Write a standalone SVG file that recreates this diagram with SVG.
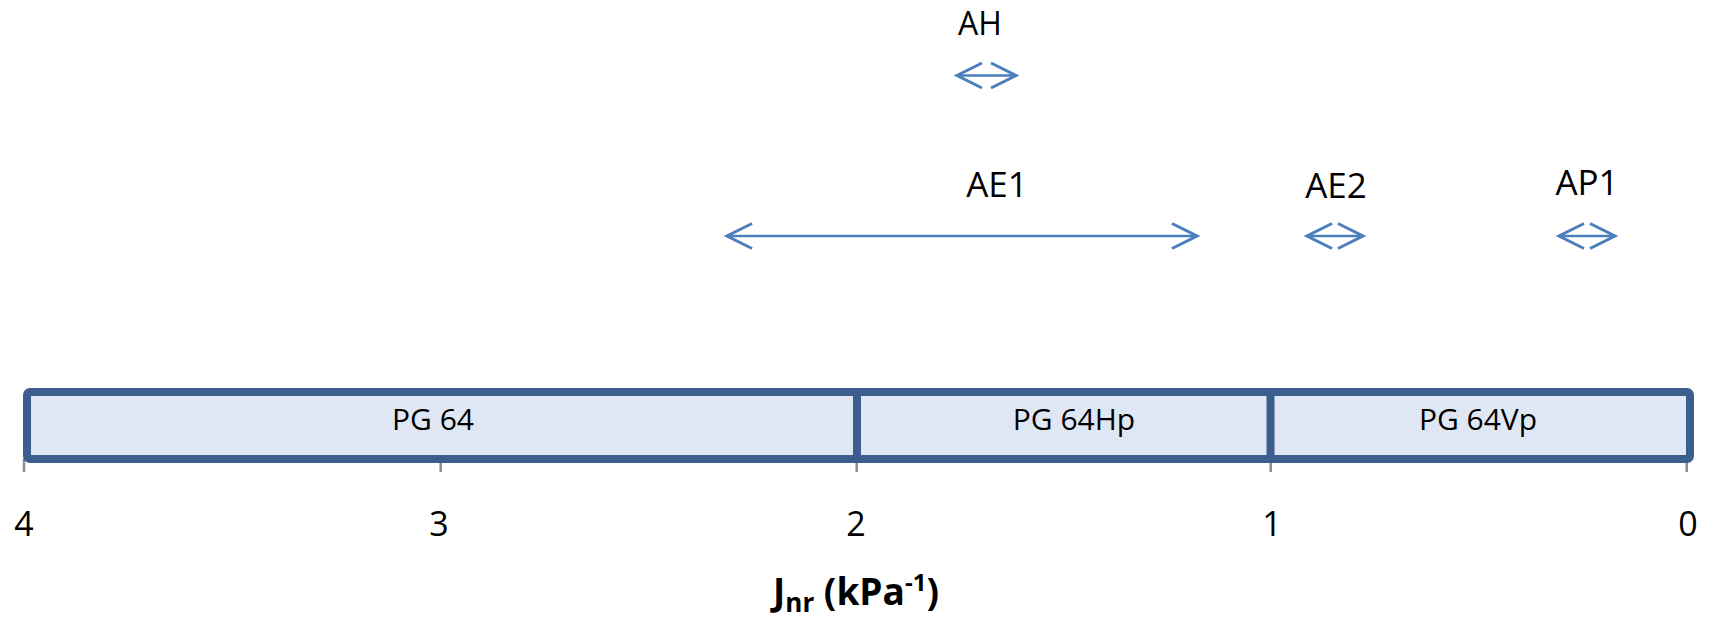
<svg xmlns="http://www.w3.org/2000/svg" width="1715" height="620" viewBox="0 0 1715 620">
<style>
  .lbl { font-family: "Open Sans", "Liberation Sans", sans-serif; fill: #000; text-anchor: middle; }
  .rng { font-size: 35px; }
  .bar { font-size: 30px; }
  .tick { font-size: 34px; }
  .title { font-size: 37px; font-weight: bold; }
  .arrow { stroke: #4a7ebb; stroke-width: 2.5; fill: none; marker-start: url(#head); marker-end: url(#head); }
  .seg { fill: #dfe7f4; stroke: #3b5e8c; stroke-width: 8; }
  .tk { stroke: #8c8c8c; stroke-width: 2.5; }
</style>
<defs>
  <marker id="head" viewBox="-30 -16 34 32" refX="0" refY="0" markerWidth="34" markerHeight="32" markerUnits="userSpaceOnUse" orient="auto-start-reverse" overflow="visible">
    <path d="M-25,-12.5 L0,0 L-25,12.5" fill="none" stroke="#4a7ebb" stroke-width="3"/>
  </marker>
</defs>
<rect width="1715" height="620" fill="#fff"/>

<g id="axis">
  <line class="tk" x1="24" y1="459" x2="24" y2="472"/>
  <line class="tk" x1="440.7" y1="459" x2="440.7" y2="472"/>
  <line class="tk" x1="856.7" y1="459" x2="856.7" y2="472"/>
  <line class="tk" x1="1270.7" y1="459" x2="1270.7" y2="472"/>
  <line class="tk" x1="1686.7" y1="459" x2="1686.7" y2="472"/>
  <text class="lbl tick" x="24" y="536">4</text>
  <text class="lbl tick" x="439" y="536">3</text>
  <text class="lbl tick" x="856" y="536">2</text>
  <text class="lbl tick" x="1272" y="536">1</text>
  <text class="lbl tick" x="1688" y="536">0</text>
  <text class="lbl title" x="856" y="605">J<tspan font-size="26" dy="7">nr</tspan><tspan dy="-7"> (kPa</tspan><tspan font-size="24" dy="-14">-1</tspan><tspan dy="14">)</tspan></text>
</g>

<g id="bar">
  <rect class="seg" x="27" y="392" width="1663" height="67" rx="3"/>
  <line x1="857" y1="392" x2="857" y2="459" stroke="#3b5e8c" stroke-width="8"/>
  <line x1="1270.5" y1="392" x2="1270.5" y2="459" stroke="#3b5e8c" stroke-width="8"/>
</g>

<g id="node-pg64">
  <text class="lbl bar" x="433" y="430">PG 64</text>
</g>
<g id="node-pg64hp">
  <text class="lbl bar" x="1074" y="430">PG 64Hp</text>
</g>
<g id="node-pg64vp">
  <text class="lbl bar" x="1478" y="430">PG 64Vp</text>
</g>

<g id="node-ah">
  <text class="lbl rng" x="980" y="35" font-size="32" style="font-size:32px">AH</text>
</g>
<g id="node-ae1">
  <text class="lbl rng" x="997" y="197">AE1</text>
</g>
<g id="node-ae2">
  <text class="lbl rng" x="1336" y="198">AE2</text>
</g>
<g id="node-ap1">
  <text class="lbl rng" x="1587" y="195">AP1</text>
</g>

<g id="connectors">
  <line class="arrow" x1="957" y1="75.5" x2="1016" y2="75.5"/>
  <line class="arrow" x1="727" y1="236" x2="1197" y2="236"/>
  <line class="arrow" x1="1307" y1="236" x2="1363" y2="236"/>
  <line class="arrow" x1="1559" y1="236" x2="1615" y2="236"/>
</g>
</svg>
